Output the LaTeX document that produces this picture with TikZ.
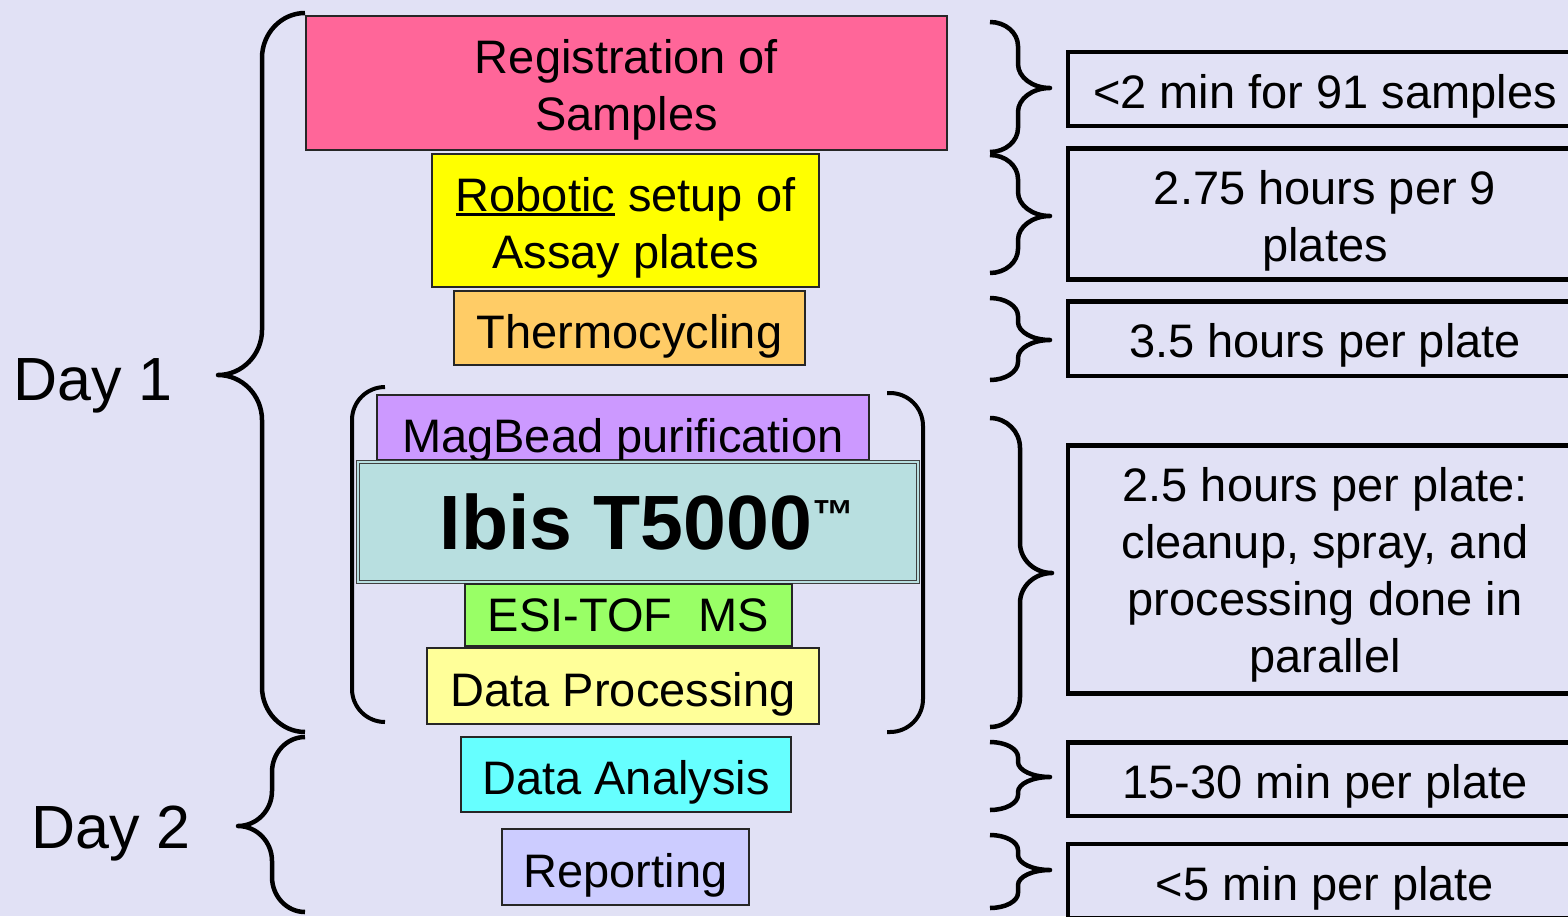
\documentclass[tikz,border=0pt]{standalone}
\usepackage{fontspec}
\setmainfont{Liberation Sans}
\definecolor{bgLavender}{HTML}{E1E1F5}
\definecolor{cRegister}{HTML}{FF6699}
\definecolor{cRobot}{HTML}{FFFF00}
\definecolor{cThermo}{HTML}{FFCC66}
\definecolor{cMagBead}{HTML}{CC99FF}
\definecolor{cIbis}{HTML}{B8DFE0}
\definecolor{cEsi}{HTML}{99FF66}
\definecolor{cDataProc}{HTML}{FFFF99}
\definecolor{cAnalysis}{HTML}{66FFFF}
\definecolor{cReport}{HTML}{CCCCFF}
\tikzstyle{fStep} = [rectangle, draw=black!85, line width=2pt, inner sep=0pt, align=center, font=\fontsize{47}{57}\selectfont]
\tikzstyle{fOneLine} = [text height=40pt, text depth=0pt]
\tikzstyle{fTime} = [rectangle, draw=black, line width=4.5pt, minimum width=514pt, inner sep=0pt, align=center, font=\fontsize{47}{57}\selectfont]
\tikzstyle{fBrace} = [line width=4.5pt, line join=round]
\tikzstyle{fBracket} = [line width=4pt, rounded corners=33pt]
\tikzstyle{fDay} = [anchor=base, inner sep=0pt, font=\fontsize{61}{61}\selectfont]
% underlined word
\newcommand{\uWord}[1]{\setbox0\hbox{#1}\rlap{\rule[-5pt]{\wd0}{3pt}}\box0\relax}
% curly brace: end x, middle x, tip x, top y, tip y, bottom y, curl radius
\newcommand{\drawCurl}[7]{%
  \draw [fBrace] (#1,#4) .. controls ({#1+0.55*(#2-#1)},#4) and (#2,{#4+0.45*#7}) .. (#2,{#4+#7})
    -- (#2,{#5-#7}) .. controls (#2,{#5-0.45*#7}) and ({#2+0.45*(#3-#2)},#5) .. (#3,#5)
    .. controls ({#2+0.45*(#3-#2)},#5) and (#2,{#5+0.45*#7}) .. (#2,{#5+#7})
    -- (#2,{#6-#7}) .. controls (#2,{#6-0.45*#7}) and ({#1+0.55*(#2-#1)},#6) .. (#1,#6);}

\begin{document}
\begin{tikzpicture}[x=1pt, y=-1pt]
    \useasboundingbox (0,0) rectangle (1568,916);
    \clip (0,0) rectangle (1568,916);
    \fill [bgLavender] (0,0) rectangle (1568,916);

    % workflow steps
    \node (regSamples) [fStep, text height=94pt, text depth=0pt, fill=cRegister, minimum width=641pt, minimum height=134pt] at (626.5,83) {Registration of\\Samples};
    \node (robotSetup) [fStep, text height=95pt, text depth=0pt, fill=cRobot, minimum width=387pt, minimum height=133pt] at (625.5,220.5) {\uWord{Robotic} setup of\\Assay plates};
    \node (thermoCycle) [fStep, fOneLine, fill=cThermo, minimum width=351pt, minimum height=74pt] at (629.5,328) {Thermocycling};
    \node (magBead) [fStep, text height=49pt, text depth=0pt, fill=cMagBead, minimum width=492pt, minimum height=65pt] at (623,427.5) {MagBead purification};
    \node (ibisBox) [fStep, fill=cIbis, draw=black!75, line width=1pt, double=cIbis, double distance=2pt, minimum width=560pt, minimum height=119.5pt, font=\bfseries\fontsize{77}{80}\selectfont] at (638,521.75) {\hspace*{18pt}Ibis T5000\raisebox{20pt}{\fontsize{42}{42}\selectfont ™}};
    \node (esiTof) [fStep, text height=32pt, text depth=0pt, fill=cEsi, minimum width=327pt, minimum height=62pt] at (628.5,615) {ESI-TOF~~MS};
    \node (dataProc) [fStep, fOneLine, fill=cDataProc, minimum width=392pt, minimum height=76pt] at (623,686) {Data Processing};
    \node (dataAnalysis) [fStep, fOneLine, fill=cAnalysis, minimum width=330pt, minimum height=75pt] at (626,774.5) {Data Analysis};
    \node (reporting) [fStep, fOneLine, fill=cReport, minimum width=247pt, minimum height=76pt] at (625.5,867) {Reporting};

    % times
    \node (timeReg) [fTime, text height=38pt, text depth=0pt, minimum height=74pt] at (1325,89) {<2 min for 91 samples};
    \node (timeRobot) [fTime, text height=94pt, text depth=0pt, minimum height=131pt] at (1325,214) {2.75 hours per 9\\plates};
    \node (timeThermo) [fTime, text height=38pt, text depth=0pt, minimum height=74.5pt] at (1325,338.5) {3.5 hours per plate};
    \node (timeIbis) [fTime, text height=205pt, text depth=0pt, minimum height=248pt] at (1325,569.5) {2.5 hours per plate:\\cleanup, spray, and\\processing done in\\parallel};
    \node (timeAnalysis) [fTime, text height=38pt, text depth=0pt, minimum height=73.5pt] at (1325,779) {15-30 min per plate};
    \node (timeReport) [fTime, text height=38pt, text depth=0pt, minimum height=74pt] at (1325,881) {<5 min per plate};

    % days
    \node (dayOne) [fDay] at (93,400) {Day 1};
    \node (dayTwo) [fDay] at (111,848) {Day 2};

    % braces
    \drawCurl{305}{262}{218}{13}{375}{732}{45}
    \drawCurl{305}{272}{238}{737}{826}{912}{35}
    \drawCurl{990}{1018}{1050}{22}{88}{152}{24}
    \drawCurl{990}{1018}{1050}{155}{216}{273}{24}
    \drawCurl{990}{1018}{1050}{298}{340}{380}{18}
    \drawCurl{990}{1020}{1052}{418}{573}{727}{30}
    \drawCurl{990}{1018}{1050}{742}{777}{810}{15}
    \drawCurl{990}{1018}{1050}{835}{870}{908}{15}

    % ibis group brackets
    \draw [fBracket] (385,387) -- (352,387) -- (352,722) -- (385,722);
    \draw [fBracket] (887,393) -- (923,393) -- (923,732) -- (887,732);
\end{tikzpicture}
\end{document}
